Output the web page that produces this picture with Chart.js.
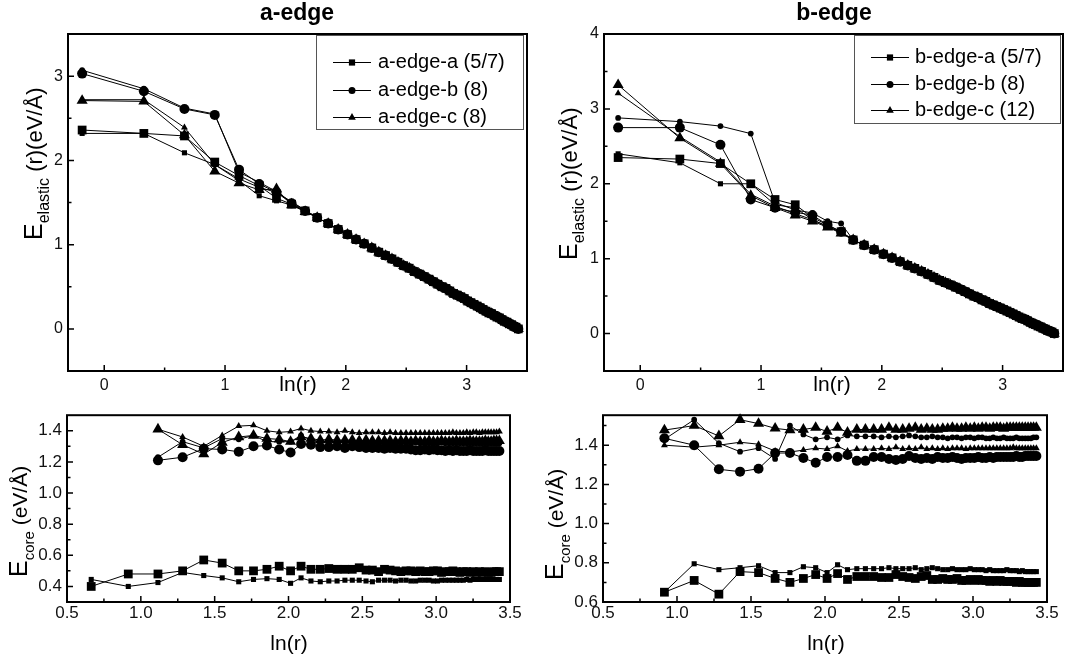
<!DOCTYPE html>
<html>
<head>
<meta charset="utf-8">
<title>Elastic and core energy vs ln(r)</title>
<script src="https://cdn.jsdelivr.net/npm/chart.js@4.4.1/dist/chart.umd.min.js"></script>
<style>
  html, body { margin: 0; padding: 0; background: #fff; }
  #page { position: relative; width: 1082px; height: 664px; overflow: hidden; }
  #page canvas { position: absolute; }
</style>
</head>
<body>
<div id="page">
  <canvas id="aElastic" width="540" height="400" style="left:0;top:0"></canvas>
  <canvas id="bElastic" width="542" height="400" style="left:540px;top:0"></canvas>
  <canvas id="aCore" width="540" height="264" style="left:0;top:400px"></canvas>
  <canvas id="bCore" width="542" height="264" style="left:540px;top:400px"></canvas>
</div>
<script>
// ln(r) of the shell radii
const lnR = [
  -0.183, 0.328, 0.664, 0.915, 1.116, 1.283, 1.426, 1.551, 1.663, 1.763,
  1.854, 1.937, 2.014, 2.085, 2.152, 2.215, 2.273, 2.329, 2.382, 2.432,
  2.479, 2.525, 2.568, 2.610, 2.650, 2.688, 2.725, 2.761, 2.796, 2.829,
  2.861, 2.892, 2.923, 2.952, 2.981, 3.009, 3.036, 3.062, 3.088, 3.113,
  3.137, 3.161, 3.184, 3.207, 3.229, 3.251, 3.272, 3.293, 3.313, 3.333,
  3.353, 3.372, 3.391, 3.409, 3.428
];

const aNames = ['a-edge-a (5/7)', 'a-edge-b (8)', 'a-edge-c (8)'];
const bNames = ['b-edge-a (5/7)', 'b-edge-b (8)', 'b-edge-c (12)'];

const topXTicks = [0, 1, 2, 3];
const aElasticYTicks = [0, 1, 2, 3];
const bElasticYTicks = [0, 1, 2, 3, 4];
const coreXTicks = [0.5, 1.0, 1.5, 2.0, 2.5, 3.0, 3.5];
const aCoreYTicks = [0.4, 0.6, 0.8, 1.0, 1.2, 1.4];
const bCoreYTicks = [0.6, 0.8, 1.0, 1.2, 1.4];

// E_elastic(r), first nine shells (differ per core structure)
const aElasticSqBig = [2.36, 2.32, 2.29, 1.98, 1.82, 1.70, 1.55, 1.48, 1.40];
const aElasticSqSmall = [2.32, 2.32, 2.09, 1.95, 1.76, 1.58, 1.52, 1.47, 1.40];
const aElasticCiBig = [3.03, 2.82, 2.61, 2.54, 1.89, 1.72, 1.62, 1.49, 1.40];
const aElasticCiSmall = [3.07, 2.85, 2.62, 2.55, 1.86, 1.74, 1.63, 1.50, 1.41];
const aElasticTrBig = [2.71, 2.70, 2.30, 1.87, 1.73, 1.65, 1.66, 1.47, 1.39];
const aElasticTrSmall = [2.72, 2.72, 2.39, 1.95, 1.78, 1.68, 1.62, 1.51, 1.41];

const bElasticSqBig = [2.35, 2.33, 2.27, 2.00, 1.79, 1.72, 1.55, 1.45, 1.36];
const bElasticSqSmall = [2.40, 2.28, 2.00, 2.00, 1.72, 1.68, 1.52, 1.43, 1.35];
const bElasticCiBig = [2.75, 2.75, 2.52, 1.79, 1.68, 1.62, 1.58, 1.45, 1.36];
const bElasticCiSmall = [2.88, 2.83, 2.77, 2.67, 1.75, 1.65, 1.61, 1.50, 1.47];
const bElasticTrBig = [3.32, 2.61, 2.27, 1.84, 1.68, 1.58, 1.50, 1.42, 1.34];
const bElasticTrSmall = [3.21, 2.63, 2.29, 1.86, 1.70, 1.60, 1.52, 1.43, 1.35];

// far field, shells 10..55 (all structures coincide)
const aElasticTail = [
  1.32, 1.25, 1.18, 1.12, 1.06, 1.01, 0.96, 0.91, 0.87, 0.83,
  0.79, 0.75, 0.72, 0.68, 0.65, 0.62, 0.59, 0.56, 0.53, 0.50,
  0.48, 0.45, 0.42, 0.40, 0.38, 0.36, 0.33, 0.31, 0.29, 0.27,
  0.25, 0.23, 0.21, 0.19, 0.18, 0.16, 0.14, 0.13, 0.11, 0.09,
  0.08, 0.06, 0.05, 0.03, 0.02, 0.00
];
const bElasticTail = [
  1.25, 1.18, 1.12, 1.06, 1.01, 0.96, 0.91, 0.87, 0.83, 0.79,
  0.75, 0.71, 0.68, 0.65, 0.62, 0.59, 0.56, 0.53, 0.50, 0.48,
  0.45, 0.43, 0.40, 0.38, 0.36, 0.34, 0.32, 0.30, 0.28, 0.26,
  0.24, 0.22, 0.20, 0.19, 0.17, 0.15, 0.13, 0.12, 0.10, 0.09,
  0.07, 0.06, 0.04, 0.03, 0.02, 0.00
];

// E_core, a-edge: squares from shell 3, circles/triangles from shell 5
const aCoreSqBig = [
  0.40, 0.48, 0.48, 0.50, 0.57, 0.55, 0.50, 0.50, 0.51, 0.53,
  0.50, 0.53, 0.51, 0.51, 0.515, 0.51, 0.51, 0.51, 0.52, 0.505,
  0.505, 0.495, 0.51, 0.505, 0.50, 0.495, 0.50, 0.50, 0.495, 0.50,
  0.495, 0.495, 0.50, 0.50, 0.49, 0.495, 0.495, 0.50, 0.495, 0.49,
  0.495, 0.495, 0.49, 0.495, 0.49, 0.495, 0.49, 0.495, 0.49, 0.49,
  0.495, 0.495, 0.495
];
const aCoreSqSmall = [
  0.445, 0.40, 0.425, 0.49, 0.47, 0.455, 0.43, 0.445, 0.45, 0.445,
  0.42, 0.455, 0.435, 0.43, 0.435, 0.435, 0.44, 0.44, 0.44, 0.435,
  0.43, 0.44, 0.44, 0.44, 0.435, 0.44, 0.44, 0.435, 0.435, 0.44,
  0.44, 0.44, 0.435, 0.435, 0.44, 0.44, 0.44, 0.44, 0.44, 0.44,
  0.44, 0.445, 0.44, 0.445, 0.445, 0.445, 0.445, 0.445, 0.445, 0.445,
  0.445, 0.445, 0.445
];
const aCoreCiBig = [
  1.21, 1.23, 1.285, 1.28, 1.265, 1.30, 1.305, 1.28, 1.26, 1.315,
  1.31, 1.295, 1.295, 1.30, 1.29, 1.30, 1.295, 1.29, 1.29, 1.29,
  1.285, 1.29, 1.285, 1.285, 1.285, 1.28, 1.275, 1.275, 1.28, 1.275,
  1.28, 1.275, 1.275, 1.27, 1.275, 1.27, 1.275, 1.27, 1.27, 1.27,
  1.275, 1.27, 1.27, 1.27, 1.27, 1.275, 1.27, 1.27, 1.27, 1.27,
  1.27
];
const aCoreCiSmall = [
  1.23, 1.33, 1.29, 1.35, 1.345, 1.37, 1.33, 1.33, 1.33, 1.37,
  1.34, 1.33, 1.32, 1.33, 1.32, 1.325, 1.32, 1.32, 1.325, 1.32,
  1.32, 1.325, 1.32, 1.32, 1.32, 1.32, 1.325, 1.32, 1.32, 1.32,
  1.32, 1.32, 1.325, 1.32, 1.32, 1.32, 1.32, 1.32, 1.32, 1.32,
  1.32, 1.32, 1.32, 1.32, 1.32, 1.32, 1.32, 1.32, 1.32, 1.32,
  1.32
];
const aCoreTrBig = [
  1.41, 1.31, 1.25, 1.325, 1.36, 1.37, 1.35, 1.345, 1.33, 1.36,
  1.35, 1.34, 1.345, 1.34, 1.34, 1.34, 1.335, 1.34, 1.335, 1.335,
  1.335, 1.335, 1.33, 1.335, 1.335, 1.33, 1.335, 1.33, 1.33, 1.335,
  1.33, 1.33, 1.335, 1.33, 1.33, 1.33, 1.335, 1.33, 1.33, 1.33,
  1.335, 1.33, 1.33, 1.33, 1.33, 1.335, 1.33, 1.33, 1.335, 1.335,
  1.335
];
const aCoreTrSmall = [
  1.41, 1.36, 1.30, 1.37, 1.43, 1.435, 1.40, 1.39, 1.395, 1.415,
  1.40, 1.395, 1.395, 1.39, 1.40, 1.39, 1.385, 1.39, 1.39, 1.39,
  1.385, 1.39, 1.385, 1.385, 1.385, 1.385, 1.385, 1.385, 1.385, 1.385,
  1.385, 1.385, 1.385, 1.385, 1.385, 1.39, 1.385, 1.385, 1.385, 1.39,
  1.385, 1.39, 1.39, 1.385, 1.39, 1.39, 1.39, 1.39, 1.39, 1.39,
  1.395
];

// E_core, b-edge: all from shell 4
const bCoreTrBig = [
  1.477, 1.50, 1.447, 1.53, 1.51, 1.486, 1.477, 1.48, 1.49, 1.47,
  1.49, 1.465, 1.48, 1.48, 1.48, 1.48, 1.49, 1.48, 1.48, 1.485,
  1.49, 1.48, 1.485, 1.48, 1.48, 1.485, 1.485, 1.49, 1.485, 1.485,
  1.49, 1.485, 1.49, 1.485, 1.49, 1.49, 1.485, 1.49, 1.49, 1.49,
  1.485, 1.49, 1.49, 1.49, 1.49, 1.49, 1.49, 1.49, 1.49, 1.49,
  1.49, 1.49
];
const bCoreCiSmall = [
  1.43, 1.53, 1.41, 1.367, 1.385, 1.33, 1.50, 1.455, 1.43, 1.44,
  1.43, 1.45, 1.445, 1.445, 1.445, 1.44, 1.445, 1.44, 1.445, 1.45,
  1.445, 1.44, 1.44, 1.445, 1.44, 1.44, 1.435, 1.44, 1.44, 1.435,
  1.44, 1.44, 1.435, 1.44, 1.44, 1.435, 1.435, 1.44, 1.435, 1.435,
  1.44, 1.435, 1.435, 1.435, 1.44, 1.435, 1.435, 1.435, 1.435, 1.435,
  1.44, 1.44
];
const bCoreTrSmall = [
  1.40, 1.39, 1.40, 1.415, 1.405, 1.37, 1.365, 1.375, 1.385, 1.38,
  1.395, 1.37, 1.38, 1.38, 1.38, 1.385, 1.38, 1.39, 1.38, 1.385,
  1.38, 1.39, 1.38, 1.385, 1.38, 1.385, 1.38, 1.385, 1.385, 1.385,
  1.38, 1.385, 1.385, 1.385, 1.385, 1.385, 1.385, 1.385, 1.385, 1.385,
  1.385, 1.385, 1.385, 1.39, 1.385, 1.385, 1.385, 1.385, 1.385, 1.385,
  1.385, 1.385
];
const bCoreCiBig = [
  1.435, 1.40, 1.277, 1.265, 1.28, 1.36, 1.36, 1.335, 1.31, 1.34,
  1.34, 1.35, 1.32, 1.32, 1.34, 1.34, 1.33, 1.325, 1.33, 1.345,
  1.335, 1.33, 1.335, 1.33, 1.34, 1.335, 1.335, 1.34, 1.335, 1.33,
  1.335, 1.335, 1.335, 1.34, 1.335, 1.335, 1.34, 1.335, 1.34, 1.34,
  1.34, 1.34, 1.34, 1.34, 1.345, 1.34, 1.34, 1.345, 1.345, 1.345,
  1.345, 1.345
];
const bCoreSqSmall = [
  0.65, 0.795, 0.765, 0.775, 0.785, 0.75, 0.75, 0.78, 0.775, 0.75,
  0.79, 0.765, 0.77, 0.77, 0.77, 0.77, 0.775, 0.77, 0.77, 0.77,
  0.775, 0.765, 0.77, 0.775, 0.77, 0.765, 0.765, 0.77, 0.765, 0.765,
  0.765, 0.77, 0.765, 0.765, 0.765, 0.76, 0.765, 0.76, 0.76, 0.76,
  0.76, 0.765, 0.76, 0.76, 0.76, 0.755, 0.76, 0.755, 0.755, 0.755,
  0.755, 0.755
];
const bCoreSqBig = [
  0.65, 0.71, 0.64, 0.755, 0.75, 0.72, 0.70, 0.72, 0.74, 0.72,
  0.745, 0.715, 0.73, 0.73, 0.73, 0.725, 0.725, 0.74, 0.73, 0.725,
  0.72, 0.73, 0.735, 0.715, 0.715, 0.72, 0.715, 0.715, 0.72, 0.71,
  0.71, 0.715, 0.71, 0.715, 0.71, 0.71, 0.705, 0.71, 0.705, 0.71,
  0.705, 0.705, 0.705, 0.705, 0.70, 0.705, 0.70, 0.70, 0.70, 0.70,
  0.70, 0.70
];

//~~~~~~~~~~~~~~~~~~~~~~~~~~~~~~~~~~~~~~~~~~~~~~~~~~~~~~~~~~~~~~~~~~~~~~~~~
const FONT = "'Liberation Sans', Arial, Helvetica, sans-serif";
const INK = '#000';
const BIG = { rect: 6.2, circle: 5.0, triangle: 6.4 };
const SMALL = { rect: 3.6, circle: 2.9, triangle: 4.0 };
const LEGEND_SIZE = { rect: 4.4, circle: 3.5, triangle: 4.4 };
const STYLES = ['rect', 'circle', 'triangle'];

const series = (xs, ys, style, big) => ({
  data: ys.map((y, i) => ({ x: xs[i], y })),
  borderColor: INK,
  borderWidth: 1,
  backgroundColor: INK,
  pointStyle: style,
  pointRadius: (big ? BIG : SMALL)[style],
  pointBackgroundColor: INK,
  pointBorderWidth: 0,
  pointHoverRadius: 0,
  tension: 0,
  fill: false,
  clip: false,
});

const from = (start) => lnR.slice(start);

// minor ticks sit halfway between majors
const minors = (major, lo, hi) => {
  const step = major[1] - major[0];
  const out = [];
  for (let v = major[0] - step / 2; v < hi - 1e-6; v += step) {
    if (v > lo + 1e-6) out.push(v);
  }
  return out;
};

// E with a subscript, written bottom-to-top
const drawRotTitle = (ctx, t) => {
  ctx.save();
  ctx.translate(t.x, t.y);
  ctx.rotate(-Math.PI / 2);
  ctx.textAlign = 'left';
  ctx.textBaseline = 'alphabetic';
  let pos = 0;
  t.parts.forEach((p) => {
    ctx.font = p.size + 'px ' + FONT;
    ctx.fillText(p.text, pos, p.dy || 0);
    pos += ctx.measureText(p.text).width;
  });
  ctx.restore();
};

const panelPlugin = (p) => ({
  id: 'panel',
  afterDraw(chart) {
    const { ctx, chartArea: a } = chart;
    const xs = chart.scales.x;
    const ys = chart.scales.y;
    ctx.save();
    ctx.strokeStyle = INK;
    ctx.fillStyle = INK;

    // inward ticks on the left and bottom axes
    ctx.lineWidth = 1.5;
    ctx.beginPath();
    p.x.ticks.forEach((v) => {
      const px = xs.getPixelForValue(v);
      ctx.moveTo(px, a.bottom);
      ctx.lineTo(px, a.bottom - 6);
    });
    minors(p.x.ticks, p.x.min, p.x.max).forEach((v) => {
      const px = xs.getPixelForValue(v);
      ctx.moveTo(px, a.bottom);
      ctx.lineTo(px, a.bottom - 3.5);
    });
    p.y.ticks.forEach((v) => {
      const py = ys.getPixelForValue(v);
      ctx.moveTo(a.left, py);
      ctx.lineTo(a.left + 6, py);
    });
    minors(p.y.ticks, p.y.min, p.y.max).forEach((v) => {
      const py = ys.getPixelForValue(v);
      ctx.moveTo(a.left, py);
      ctx.lineTo(a.left + 3.5, py);
    });
    ctx.stroke();

    // frame
    ctx.lineWidth = 2;
    ctx.strokeRect(a.left, a.top, a.right - a.left, a.bottom - a.top);

    // panel title
    if (p.title) {
      ctx.font = 'bold 23px ' + FONT;
      ctx.textAlign = 'center';
      ctx.textBaseline = 'alphabetic';
      ctx.fillText(p.title.text, p.title.x, p.title.y);
    }

    // x title
    ctx.font = p.xTitle.size + 'px ' + FONT;
    ctx.textAlign = 'center';
    ctx.textBaseline = 'alphabetic';
    ctx.fillText('ln(r)', p.xTitle.x, p.xTitle.y);

    drawRotTitle(ctx, p.yTitle);

    // legend
    if (p.legend) {
      const L = p.legend;
      ctx.lineWidth = 1;
      ctx.strokeStyle = '#555';
      ctx.strokeRect(L.box[0] + 0.5, L.box[1] + 0.5, L.box[2] - L.box[0], L.box[3] - L.box[1]);
      ctx.strokeStyle = INK;
      L.names.forEach((name, i) => {
        const y = L.rows[i];
        ctx.beginPath();
        ctx.moveTo(L.symX - 19, y + 0.5);
        ctx.lineTo(L.symX + 19, y + 0.5);
        ctx.stroke();
        Chart.helpers.drawPoint(ctx, {
          pointStyle: STYLES[i], radius: LEGEND_SIZE[STYLES[i]], rotation: 0, borderWidth: 0,
        }, L.symX, y + 0.5);
        ctx.font = '20px ' + FONT;
        ctx.textAlign = 'left';
        ctx.textBaseline = 'middle';
        ctx.fillText(name, L.textX, y);
      });
    }
    ctx.restore();
  },
});

const axis = (ax, fit) => ({
  type: 'linear',
  min: ax.min,
  max: ax.max,
  grid: { display: false, drawTicks: false },
  border: { display: false },
  afterBuildTicks: (s) => { s.ticks = ax.ticks.map((v) => ({ value: v })); },
  afterFit: fit,
  ticks: {
    font: { family: FONT, size: ax.size },
    color: '#111',
    padding: ax.pad,
    autoSkip: false,
    maxRotation: 0,
    callback: (v) => ax.fmt(v),
  },
});

const makeChart = (p) => {
  const canvas = document.getElementById(p.id);
  const W = canvas.width;
  const H = canvas.height;
  return new Chart(canvas, {
    type: 'line',
    data: { datasets: p.datasets },
    options: {
      responsive: false,
      animation: false,
      devicePixelRatio: 1,
      events: [],
      layout: { padding: { left: 0, top: p.area.top, right: W - p.area.right, bottom: 0 } },
      plugins: { legend: { display: false }, title: { display: false }, tooltip: { enabled: false } },
      scales: {
        x: axis(p.x, (s) => { s.height = H - p.area.bottom; }),
        y: axis(p.y, (s) => { s.width = p.area.left; }),
      },
    },
    plugins: [panelPlugin(p)],
  });
};

const intFmt = (v) => String(v);
const oneFmt = (v) => v.toFixed(1);

const elasticTitle = (x, y) => ({
  x, y,
  parts: [
    { text: 'E', size: 25 },
    { text: 'elastic', size: 16, dy: 7 },
    { text: ' (r)(eV/Å)', size: 22 },
  ],
});
const coreTitle = (x, y) => ({
  x, y,
  parts: [
    { text: 'E', size: 25 },
    { text: 'core', size: 15, dy: 7 },
    { text: ' (eV/Å)', size: 21 },
  ],
});

makeChart({
  id: 'aElastic',
  area: { left: 68, top: 34, right: 527, bottom: 371 },
  x: { min: -0.3, max: 3.5, ticks: topXTicks, fmt: intFmt, size: 16, pad: 5 },
  y: { min: -0.5, max: 3.5, ticks: aElasticYTicks, fmt: intFmt, size: 16, pad: 5 },
  datasets: [
    series(lnR, aElasticSqBig.concat(aElasticTail), 'rect', true),
    series(lnR, aElasticSqSmall.concat(aElasticTail), 'rect', false),
    series(lnR, aElasticCiBig.concat(aElasticTail), 'circle', true),
    series(lnR, aElasticCiSmall.concat(aElasticTail), 'circle', false),
    series(lnR, aElasticTrBig.concat(aElasticTail), 'triangle', true),
    series(lnR, aElasticTrSmall.concat(aElasticTail), 'triangle', false),
  ],
  title: { text: 'a-edge', x: 297, y: 20 },
  xTitle: { x: 298, y: 391, size: 21 },
  yTitle: elasticTitle(42, 240),
  legend: { box: [316, 35, 523, 129], rows: [62, 90, 117], symX: 352, textX: 378, names: aNames },
});

makeChart({
  id: 'bElastic',
  area: { left: 64, top: 34, right: 523, bottom: 371 },
  x: { min: -0.3, max: 3.5, ticks: topXTicks, fmt: intFmt, size: 16, pad: 5 },
  y: { min: -0.5, max: 4, ticks: bElasticYTicks, fmt: intFmt, size: 16, pad: 5 },
  datasets: [
    series(lnR, bElasticSqBig.concat(bElasticTail), 'rect', true),
    series(lnR, bElasticSqSmall.concat(bElasticTail), 'rect', false),
    series(lnR, bElasticCiBig.concat(bElasticTail), 'circle', true),
    series(lnR, bElasticCiSmall.concat(bElasticTail), 'circle', false),
    series(lnR, bElasticTrBig.concat(bElasticTail), 'triangle', true),
    series(lnR, bElasticTrSmall.concat(bElasticTail), 'triangle', false),
  ],
  title: { text: 'b-edge', x: 294, y: 20 },
  xTitle: { x: 292, y: 391, size: 21 },
  yTitle: elasticTitle(37, 260),
  legend: { box: [314, 35, 520, 123], rows: [57, 84, 110], symX: 350, textX: 375, names: bNames },
});

makeChart({
  id: 'aCore',
  area: { left: 67, top: 15, right: 510, bottom: 202 },
  x: { min: 0.5, max: 3.5, ticks: coreXTicks, fmt: oneFmt, size: 17, pad: 1 },
  y: { min: 0.3, max: 1.5, ticks: aCoreYTicks, fmt: oneFmt, size: 17, pad: 5 },
  datasets: [
    series(from(2), aCoreSqBig, 'rect', true),
    series(from(2), aCoreSqSmall, 'rect', false),
    series(from(4), aCoreCiBig, 'circle', true),
    series(from(4), aCoreCiSmall, 'circle', false),
    series(from(4), aCoreTrBig, 'triangle', true),
    series(from(4), aCoreTrSmall, 'triangle', false),
  ],
  xTitle: { x: 289, y: 250, size: 21 },
  yTitle: coreTitle(27, 177),
});

makeChart({
  id: 'bCore',
  area: { left: 63, top: 15, right: 507, bottom: 202 },
  x: { min: 0.5, max: 3.5, ticks: coreXTicks, fmt: oneFmt, size: 17, pad: 1 },
  y: { min: 0.6, max: 1.553, ticks: bCoreYTicks, fmt: oneFmt, size: 17, pad: 5 },
  datasets: [
    series(from(3), bCoreSqBig, 'rect', true),
    series(from(3), bCoreSqSmall, 'rect', false),
    series(from(3), bCoreCiBig, 'circle', true),
    series(from(3), bCoreCiSmall, 'circle', false),
    series(from(3), bCoreTrBig, 'triangle', true),
    series(from(3), bCoreTrSmall, 'triangle', false),
  ],
  xTitle: { x: 286, y: 250, size: 21 },
  yTitle: coreTitle(23, 180),
});
</script>
</body>
</html>
